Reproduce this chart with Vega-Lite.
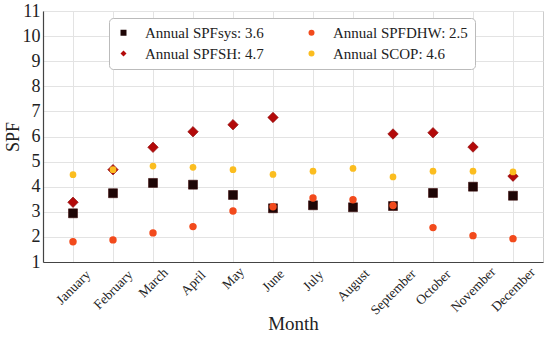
{
  "$schema": "https://vega.github.io/schema/vega-lite/v6.json",
  "width": 500,
  "height": 251,
  "autosize": {"type": "none"},
  "padding": {"left": 43, "top": 11, "right": 7, "bottom": 78},
  "background": "white",
  "config": {
    "font": "'Liberation Serif', 'DejaVu Serif', serif",
    "view": {"stroke": "#cccccc", "strokeWidth": 1}
  },
  "data": {
    "values": [
      {"month": "January", "series": "sys", "v": 2.94},
      {"month": "February", "series": "sys", "v": 3.74},
      {"month": "March", "series": "sys", "v": 4.15},
      {"month": "April", "series": "sys", "v": 4.08},
      {"month": "May", "series": "sys", "v": 3.67},
      {"month": "June", "series": "sys", "v": 3.14},
      {"month": "July", "series": "sys", "v": 3.26},
      {"month": "August", "series": "sys", "v": 3.18},
      {"month": "September", "series": "sys", "v": 3.23},
      {"month": "October", "series": "sys", "v": 3.75},
      {"month": "November", "series": "sys", "v": 4.0},
      {"month": "December", "series": "sys", "v": 3.64},
      {"month": "January", "series": "SH", "v": 3.38},
      {"month": "February", "series": "SH", "v": 4.68},
      {"month": "March", "series": "SH", "v": 5.57},
      {"month": "April", "series": "SH", "v": 6.19},
      {"month": "May", "series": "SH", "v": 6.47},
      {"month": "June", "series": "SH", "v": 6.76},
      {"month": "September", "series": "SH", "v": 6.1},
      {"month": "October", "series": "SH", "v": 6.15},
      {"month": "November", "series": "SH", "v": 5.58},
      {"month": "December", "series": "SH", "v": 4.42},
      {"month": "January", "series": "DHW", "v": 1.81},
      {"month": "February", "series": "DHW", "v": 1.88},
      {"month": "March", "series": "DHW", "v": 2.16},
      {"month": "April", "series": "DHW", "v": 2.41},
      {"month": "May", "series": "DHW", "v": 3.03},
      {"month": "June", "series": "DHW", "v": 3.2},
      {"month": "July", "series": "DHW", "v": 3.55},
      {"month": "August", "series": "DHW", "v": 3.48},
      {"month": "September", "series": "DHW", "v": 3.25},
      {"month": "October", "series": "DHW", "v": 2.37},
      {"month": "November", "series": "DHW", "v": 2.05},
      {"month": "December", "series": "DHW", "v": 1.93},
      {"month": "January", "series": "SCOP", "v": 4.48},
      {"month": "February", "series": "SCOP", "v": 4.68},
      {"month": "March", "series": "SCOP", "v": 4.82},
      {"month": "April", "series": "SCOP", "v": 4.77},
      {"month": "May", "series": "SCOP", "v": 4.68},
      {"month": "June", "series": "SCOP", "v": 4.49},
      {"month": "July", "series": "SCOP", "v": 4.62},
      {"month": "August", "series": "SCOP", "v": 4.73},
      {"month": "September", "series": "SCOP", "v": 4.39},
      {"month": "October", "series": "SCOP", "v": 4.62},
      {"month": "November", "series": "SCOP", "v": 4.62},
      {"month": "December", "series": "SCOP", "v": 4.59}
    ]
  },
  "encoding": {
    "x": {
      "field": "month",
      "type": "ordinal",
      "sort": ["January","February","March","April","May","June","July","August","September","October","November","December"],
      "scale": {"type": "point", "padding": 0.75},
      "axis": {
        "title": "Month",
        "titleFont": "'Liberation Serif', 'DejaVu Serif', serif",
        "titleFontSize": 19,
        "titleFontWeight": "normal",
        "titleColor": "#222222",
        "titleY": 67,
        "titleBaseline": "alphabetic",
        "labelAngle": -45,
        "labelAlign": "center",
        "labelBaseline": "middle",
        "labelFont": "'Liberation Serif', 'DejaVu Serif', serif",
        "labelFontSize": 13.5,
        "labelColor": "#222222",
        "labelPadding": {"expr": "9 + length(datum.label) * 2.3"},
        "labelOverlap": false,
        "ticks": false,
        "grid": true,
        "gridColor": "#e3e3e3",
        "domainColor": "#444444",
        "domainWidth": 1.2
      }
    },
    "y": {
      "field": "v",
      "type": "quantitative",
      "scale": {"domain": [1, 11], "nice": false, "zero": false},
      "axis": {
        "title": "SPF",
        "titleFont": "'Liberation Serif', 'DejaVu Serif', serif",
        "titleFontSize": 18,
        "titleFontWeight": "normal",
        "titleColor": "#222222",
        "titleX": -30,
        "titleY": 125.5,
        "titleAlign": "center",
        "titleBaseline": "middle",
        "values": [1,2,3,4,5,6,7,8,9,10,11],
        "labelFont": "'Liberation Serif', 'DejaVu Serif', serif",
        "labelFontSize": 18,
        "labelColor": "#222222",
        "labelPadding": 3,
        "ticks": false,
        "grid": true,
        "gridColor": "#e3e3e3",
        "domainColor": "#444444",
        "domainWidth": 1.2
      }
    },
    "shape": {
      "field": "series",
      "type": "nominal",
      "scale": {"domain": ["sys","SH","DHW","SCOP"], "range": ["square","diamond","circle","circle"]}
    },
    "color": {
      "field": "series",
      "type": "nominal",
      "scale": {"domain": ["sys","SH","DHW","SCOP"], "range": ["#1e0606","#b30a0a","#f24a1c","#fbbd1f"]},
      "legend": {
        "title": null,
        "orient": "none",
        "legendX": 66,
        "legendY": 7,
        "columns": 2,
        "columnPadding": 40,
        "rowPadding": 5,
        "padding": 7,
        "symbolSize": 36,
        "symbolStrokeWidth": 0,
        "labelFont": "'Liberation Serif', 'DejaVu Serif', serif",
        "labelFontSize": 15,
        "labelColor": "#222222",
        "labelOffset": 14,
        "fillColor": "white",
        "strokeColor": "#bbbbbb",
        "cornerRadius": 4,
        "labelExpr": "datum.label == 'sys' ? 'Annual SPFsys: 3.6' : datum.label == 'SH' ? 'Annual SPFSH: 4.7' : datum.label == 'DHW' ? 'Annual SPFDHW: 2.5' : 'Annual SCOP: 4.6'"
      }
    }
  },
  "layer": [
    {"transform": [{"filter": "datum.series == 'sys'"}], "mark": {"type": "point", "filled": true, "opacity": 1, "size": 80, "stroke": "#3a0a0a", "strokeWidth": 0.6}},
    {"transform": [{"filter": "datum.series == 'SH'"}], "mark": {"type": "point", "filled": true, "opacity": 1, "size": 110, "stroke": "#8a0a0a", "strokeWidth": 0.6}},
    {"transform": [{"filter": "datum.series == 'DHW'"}], "mark": {"type": "point", "filled": true, "opacity": 1, "size": 55}},
    {"transform": [{"filter": "datum.series == 'SCOP'"}], "mark": {"type": "point", "filled": true, "opacity": 1, "size": 45}}
  ]
}
